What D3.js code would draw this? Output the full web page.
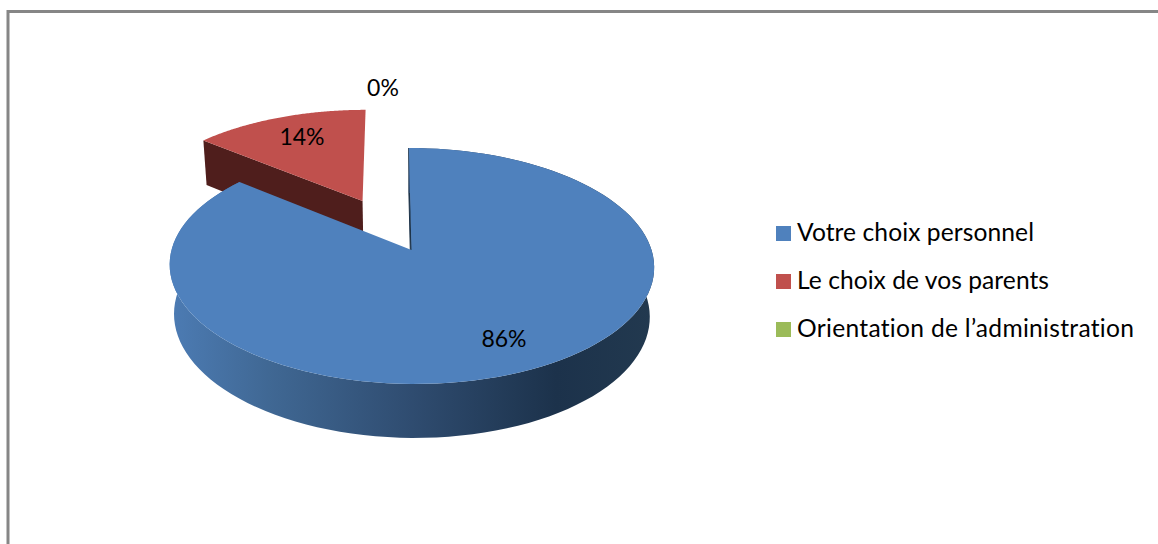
<!DOCTYPE html>
<html>
<head>
<meta charset="utf-8">
<script src="https://cdnjs.cloudflare.com/ajax/libs/d3/7.8.5/d3.min.js"></script>
<style>
  html, body { margin: 0; padding: 0; background: #fff; }
  svg { display: block; }
  text { font-family: Lato, "Noto Sans", sans-serif; fill: #000; font-variant-ligatures: none; }
  .value { font-size: 23px; text-anchor: middle; }
  .legend-label { font-size: 24.6px; }
</style>
</head>
<body>
<div id="chart"></div>
<script>
const categories = ["Votre choix personnel", "Le choix de vos parents", "Orientation de l’administration"];
const shares = [86, 14, 0];
const shareLabels = ["86%", "14%", "0%"];
const colors = ["#4f81bd", "#c0504d", "#9bbb59"];
const wallColors = ["#2c4a6e", "#4f1e1c", "#5c7035"];

const width = 1158;
const height = 544;

const svg = d3.select("#chart").append("svg")
  .attr("width", width)
  .attr("height", height);

// frame of the chart area, runs off the bottom and right of the picture
svg.append("path")
  .attr("d", `M8,${height} V11.5 H${width}`)
  .attr("fill", "none")
  .attr("stroke", "#868686")
  .attr("stroke-width", 3);

// pie projection: u across, v away from viewer, z down (0 top face, 1 bottom face)
const pieX = 411.5, pieY = 250;
const radiusX = 240, radiusY = 115.8, depth = 50;
const perspective = 0.1356, perspectiveZ = 0.018;
const skew = 3; // far side of the pie sits a bit left of the near side
const explodeRed = 0.495;

function project(u, v, z) {
  const w = 1 + perspective * v + perspectiveZ * z;
  return [pieX + (radiusX * u - skew * v) / w, pieY + (depth * z - radiusY * v) / w];
}

const pie = d3.pie().sort(null).value((d) => d)(shares);
const line = d3.line();

function offsetOf(slice, explode) {
  const mid = (slice.startAngle + slice.endAngle) / 2;
  return [explode * Math.sin(mid), explode * Math.cos(mid)];
}

function arcPoints(slice, off, z) {
  const pts = [];
  const steps = 120;
  for (let i = 0; i <= steps; i++) {
    const a = slice.startAngle + (slice.endAngle - slice.startAngle) * i / steps;
    pts.push(project(Math.sin(a) + off[0], Math.cos(a) + off[1], z));
  }
  return pts;
}

function cutWall(angle, off) {
  const ou = Math.sin(angle) + off[0], ov = Math.cos(angle) + off[1];
  return [project(off[0], off[1], 0), project(ou, ov, 0), project(ou, ov, 1), project(off[0], off[1], 1)];
}

function drawTop(slice, off, fill) {
  const pts = [project(off[0], off[1], 0)].concat(arcPoints(slice, off, 0));
  svg.append("path").attr("d", line(pts) + "Z").attr("fill", fill);
}

// gradient on the outer wall of the big slice
const gradient = svg.append("defs").append("linearGradient")
  .attr("id", "wall")
  .attr("gradientUnits", "userSpaceOnUse")
  .attr("x1", 172).attr("x2", 652).attr("y1", 0).attr("y2", 0);
[[0, "#4c7bb3"], [0.2, "#406894"], [0.5, "#2f4c70"], [0.8, "#1c324b"], [1, "#22394f"]].forEach((s) => {
  gradient.append("stop").attr("offset", s[0]).attr("stop-color", s[1]);
});

// red slice, pulled out, goes behind the blue one
const red = pie[1];
const redOff = offsetOf(red, explodeRed);
svg.append("path").attr("d", line(cutWall(red.startAngle, redOff)) + "Z").attr("fill", wallColors[1]);
drawTop(red, redOff, colors[1]);

// blue slice
const blue = pie[0];
const blueOff = [0, 0];
svg.append("path").attr("d", line(cutWall(blue.startAngle, blueOff)) + "Z").attr("fill", "#1d3349").attr("stroke", "#1d3349").attr("stroke-width", 1);
const front = arcPoints(blue, blueOff, 0);
const back = arcPoints(blue, blueOff, 1).reverse();
svg.append("path").attr("d", line(front.concat(back)) + "Z").attr("fill", "url(#wall)");
drawTop(blue, blueOff, colors[0]);

// value labels
const labelPos = [[504, 347], [302, 145], [383, 96]];
svg.selectAll(".value").data(shareLabels).enter().append("text")
  .attr("class", "value")
  .attr("x", (d, i) => labelPos[i][0])
  .attr("y", (d, i) => labelPos[i][1])
  .text((d) => d);

// legend, Lato runs a bit narrower than the original font so widths are forced
const legendWidths = [237, 252, 337];
const legendY = d3.scalePoint().domain(categories).range([241, 337]);
const legend = svg.selectAll(".legend").data(categories).enter().append("g").attr("class", "legend");
legend.append("rect")
  .attr("x", 776)
  .attr("y", (d) => legendY(d) - 15)
  .attr("width", 15)
  .attr("height", 15)
  .attr("fill", (d, i) => colors[i]);
legend.append("text")
  .attr("class", "legend-label")
  .attr("x", 797)
  .attr("y", (d) => legendY(d))
  .attr("textLength", (d, i) => legendWidths[i])
  .attr("lengthAdjust", "spacing")
  .text((d) => d);
</script>
</body>
</html>
